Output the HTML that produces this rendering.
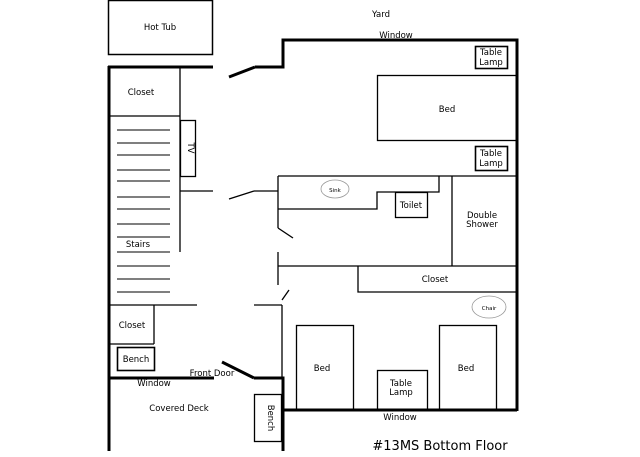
<!DOCTYPE html>
<html><head><meta charset="utf-8"><style>
html,body{margin:0;padding:0;background:#fff;}
svg{display:block;}
text{font-family:"DejaVu Sans","Liberation Sans",sans-serif;font-size:8.5px;fill:#000;text-anchor:middle;}
</style></head><body>
<svg width="640" height="457" viewBox="0 0 640 457" xmlns="http://www.w3.org/2000/svg">
<g fill="none" stroke="#000">
<!-- hot tub -->
<rect x="108.5" y="0.5" width="104" height="54" stroke-width="1.5"/>
<!-- thick walls -->
<g stroke-width="3">
<line x1="108" y1="67" x2="213" y2="67"/>
<line x1="109" y1="66" x2="109" y2="451"/>
<polyline points="255,67 283,67 283,40 517,40 517,411"/>
<line x1="229" y1="77" x2="255" y2="67"/>
<line x1="283" y1="410" x2="517" y2="410"/>
<line x1="108" y1="378" x2="214" y2="378"/>
<line x1="222" y1="362" x2="254" y2="378"/>
<polyline points="254,378 283,378 283,451"/>
</g>
<g stroke-width="1.3">
<!-- left column -->
<line x1="180" y1="67" x2="180" y2="252"/>
<line x1="108" y1="116" x2="180" y2="116"/>
<rect x="180.5" y="120.5" width="15" height="56"/>
<line x1="180" y1="191" x2="213" y2="191"/>
<line x1="229" y1="199" x2="254" y2="191"/>
<line x1="254" y1="191" x2="278" y2="191"/>
<line x1="108" y1="305" x2="197" y2="305"/>
<line x1="254" y1="305" x2="282" y2="305"/>
<line x1="154" y1="305" x2="154" y2="344"/>
<line x1="108" y1="344" x2="154" y2="344"/>
<rect x="117.5" y="347.5" width="37" height="23" stroke-width="1.6"/>
<line x1="282" y1="305" x2="282" y2="378"/>
<line x1="282" y1="300" x2="289" y2="290"/>
<rect x="254.5" y="394.5" width="27" height="47"/>
<!-- stairs -->
<g stroke="#333">
<line x1="117" y1="130" x2="170" y2="130"/>
<line x1="117" y1="143" x2="170" y2="143"/>
<line x1="117" y1="155" x2="170" y2="155"/>
<line x1="117" y1="170" x2="170" y2="170"/>
<line x1="117" y1="181" x2="170" y2="181"/>
<line x1="117" y1="197" x2="170" y2="197"/>
<line x1="117" y1="209" x2="170" y2="209"/>
<line x1="117" y1="224" x2="170" y2="224"/>
<line x1="117" y1="237" x2="170" y2="237"/>
<line x1="117" y1="252" x2="170" y2="252"/>
<line x1="117" y1="266" x2="170" y2="266"/>
<line x1="117" y1="279" x2="170" y2="279"/>
<line x1="117" y1="292" x2="170" y2="292"/>
</g>
<!-- bath -->
<line x1="278" y1="176" x2="517" y2="176"/>
<line x1="278" y1="176" x2="278" y2="228"/>
<line x1="278" y1="228" x2="293" y2="238"/>
<line x1="278" y1="252" x2="278" y2="285"/>
<polyline points="278,209 377,209 377,192 439,192 439,176"/>
<rect x="395.5" y="192.5" width="32" height="25"/>
<line x1="452" y1="176" x2="452" y2="266"/>
<line x1="278" y1="266" x2="517" y2="266"/>
<polyline points="358,266 358,292 517,292"/>
<!-- furniture -->
<rect x="475.5" y="46.5" width="32" height="22" stroke-width="1.6"/>
<rect x="377.5" y="75.5" width="139" height="65"/>
<rect x="475.5" y="146.5" width="32" height="24" stroke-width="1.6"/>
<rect x="296.5" y="325.5" width="57" height="85"/>
<rect x="439.5" y="325.5" width="57" height="85"/>
<rect x="377.5" y="370.5" width="50" height="40"/>
</g>
<ellipse cx="335" cy="189" rx="14" ry="9" stroke="#999" stroke-width="0.8"/>
<ellipse cx="489" cy="307" rx="17" ry="11" stroke="#999" stroke-width="0.8"/>
</g>
<text x="160" y="30">Hot Tub</text>
<text x="381" y="17">Yard</text>
<text x="396" y="38">Window</text>
<text x="491" y="55">Table</text><text x="491" y="65">Lamp</text>
<text x="447" y="112">Bed</text>
<text x="491" y="156">Table</text><text x="491" y="166">Lamp</text>
<text x="141" y="95">Closet</text>
<text x="188" y="148" transform="rotate(90 188 148)">TV</text>
<text x="138" y="247">Stairs</text>
<text x="335" y="192" style="font-size:5.5px">Sink</text>
<text x="411" y="208">Toilet</text>
<text x="482" y="218">Double</text><text x="482" y="227">Shower</text>
<text x="435" y="282">Closet</text>
<text x="489" y="310" style="font-size:5.5px">Chair</text>
<text x="132" y="328">Closet</text>
<text x="136" y="362">Bench</text>
<text x="212" y="376">Front Door</text>
<text x="154" y="386">Window</text>
<text x="179" y="411">Covered Deck</text>
<text x="268" y="418" transform="rotate(90 268 418)">Bench</text>
<text x="322" y="371">Bed</text>
<text x="466" y="371">Bed</text>
<text x="401" y="386">Table</text><text x="401" y="395">Lamp</text>
<text x="400" y="420">Window</text>
<text x="440" y="450" style="font-size:13px">#13MS Bottom Floor</text>
</svg>
</body></html>
